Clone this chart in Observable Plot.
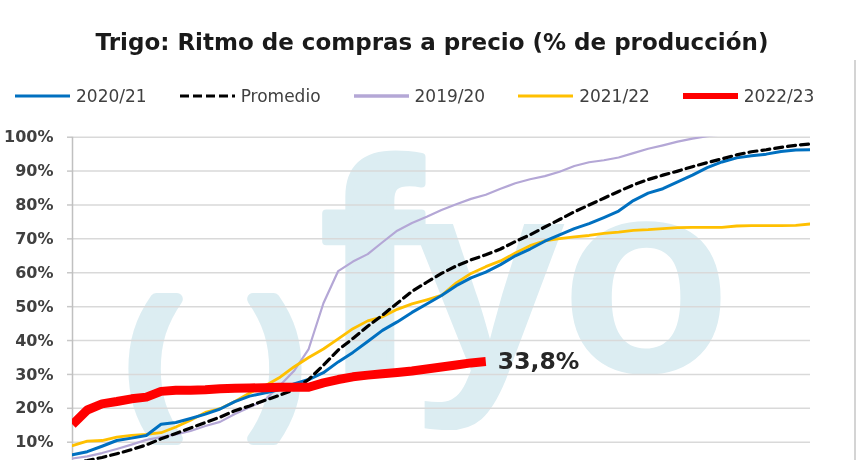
<!DOCTYPE html>
<html><head><meta charset="utf-8">
<script src="https://cdn.jsdelivr.net/npm/d3@7"></script>
<script src="https://cdn.jsdelivr.net/npm/@observablehq/plot@0.6"></script>
<style>
html,body{margin:0;padding:0;background:#fff;}
body{width:860px;height:460px;overflow:hidden;position:relative;font-family:"DejaVu Sans",sans-serif;}
#wm{position:absolute;left:0;top:0;}
#title{position:absolute;left:0;width:864px;top:28px;text-align:center;font-weight:bold;font-size:23px;line-height:28px;color:#1a1a1a;}
#legend{position:absolute;left:15px;top:85px;display:flex;gap:33px;align-items:center;font-size:17px;color:#404040;height:22px;white-space:nowrap;}
.item{display:flex;align-items:center}
.item svg{margin-right:6px}
#chart{position:absolute;left:0;top:120px;}
#border{position:absolute;left:854px;top:60px;width:2px;height:400px;background:#d4d4d4;}
</style>
</head><body>
<canvas id="wm" width="860" height="460"></canvas>
<div id="title"></div>
<div id="legend"></div>
<div id="chart"></div>
<div id="border"></div>
<script>
const titulo = "Trigo: Ritmo de compras a precio (% de producción)";
const yTicks = [10, 20, 30, 40, 50, 60, 70, 80, 90, 100];
const yTickLabels = ["10%", "20%", "30%", "40%", "50%", "60%", "70%", "80%", "90%", "100%"];

const serie2020_21 = [6.3,7.2,8.8,10.5,11.2,12.0,15.3,15.8,17.0,18.3,19.8,22.0,23.6,24.5,25.5,27.2,28.5,30.5,33.7,36.5,39.7,43.0,45.5,48.3,50.8,53.3,56.2,58.5,60.2,62.4,65.0,67.0,69.3,71.2,73.0,74.5,76.3,78.2,81.3,83.5,84.8,86.8,88.8,91.0,92.7,93.9,94.5,95.0,95.8,96.2,96.3];
const promedio = [3.8,4.6,5.5,6.6,7.8,9.2,11.0,12.6,14.2,15.8,17.4,19.3,20.7,22.3,23.8,25.5,28.5,32.7,37.2,40.6,44.2,47.5,51.0,54.5,57.2,59.8,62.0,63.8,65.3,67.0,69.2,71.2,73.5,75.7,78.0,80.0,82.0,84.0,85.9,87.5,88.8,90.0,91.3,92.5,93.6,94.8,95.7,96.3,97.0,97.6,98.0];
const serie2019_20 = [5.2,5.8,6.8,8.0,9.3,10.7,11.5,12.3,13.3,14.8,16.0,18.3,20.3,22.3,26.5,31.0,37.5,51.0,60.5,63.3,65.5,69.0,72.4,74.7,76.5,78.5,80.2,81.8,83.0,84.8,86.4,87.6,88.5,89.8,91.5,92.6,93.2,94.0,95.3,96.6,97.6,98.7,99.6,100.3,100.8,101.3,101.8,102.3,102.8,103.2,103.6];
const serie2021_22 = [9.0,10.3,10.5,11.5,12.0,12.3,12.8,14.5,16.5,18.8,19.9,22.0,24.5,26.5,29.0,32.2,35.0,37.5,40.5,43.5,45.8,47.0,49.2,50.8,52.0,53.3,57.0,59.8,61.8,63.5,65.8,68.0,69.4,70.1,70.6,71.0,71.6,72.0,72.5,72.7,73.0,73.3,73.4,73.4,73.4,73.8,73.9,73.9,73.9,74.0,74.4];
const serie2022_23 = [15.2,19.5,21.3,22.0,22.8,23.3,25.0,25.3,25.3,25.5,25.8,25.9,26.0,26.1,26.2,26.2,26.2,27.5,28.5,29.3,29.8,30.2,30.6,31.0,31.6,32.2,32.8,33.4,33.8];

const seriesNames = ["2020/21", "Promedio", "2019/20", "2021/22", "2022/23"];
const seriesValues = [serie2020_21, promedio, serie2019_20, serie2021_22, serie2022_23];
const seriesColors = ["#0070c0", "#000000", "#b4a7d6", "#ffc000", "#ff0000"];
const seriesWidths = [3, 3.2, 2.2, 2.8, 9];
const seriesDash = [null, "8,5", null, null, null];
const drawOrder = ["2019/20", "2021/22", "2020/21", "Promedio", "2022/23"];

const rowsOf = name => {
  const k = seriesNames.indexOf(name);
  return seriesValues[k].map((v, i) => ({semana: i, valor: v, serie: name}));
};

document.getElementById("title").textContent = titulo;

const legend = document.getElementById("legend");
seriesNames.forEach((n, k) => {
  const it = document.createElement("div");
  it.className = "item";
  const sw = seriesWidths[k] > 5 ? 6 : (k === 2 ? 3.5 : 3.2);
  it.innerHTML = `<svg width="55" height="12"><line x1="0" x2="55" y1="6" y2="6" stroke="${seriesColors[k]}" stroke-width="${sw}" ${seriesDash[k] ? `stroke-dasharray="9,4"` : ""}/></svg><span>${n}</span>`;
  legend.appendChild(it);
});

// watermark logo (graphic, drawn behind the chart)
const ctx = document.getElementById("wm").getContext("2d");
const wmColor = "#dcedf2";
ctx.fillStyle = wmColor; ctx.strokeStyle = wmColor; ctx.textAlign = "center"; ctx.lineJoin = "round";
ctx.font = "bold 150px 'Liberation Sans'";
ctx.lineWidth = 12;
ctx.fillText("(", 152, 408); ctx.strokeText("(", 152, 408);
ctx.fillText(")", 278, 408); ctx.strokeText(")", 278, 408);
ctx.font = "bold 300px 'Liberation Sans'";
ctx.lineWidth = 8;
ctx.fillText("f", 371, 372); ctx.strokeText("f", 371, 372);
ctx.font = "bold 280px 'Liberation Sans'";
ctx.fillText("y", 488, 372);
ctx.fillText("o", 646, 372);

const last = serie2022_23.length - 1;
const ultimo = [{semana: last, valor: serie2022_23[last], label: serie2022_23[last].toFixed(1).replace(".", ",") + "%"}];

const lineMarks = drawOrder.map(name => {
  const k = seriesNames.indexOf(name);
  return Plot.line(rowsOf(name), {
    x: "semana", y: "valor",
    stroke: seriesColors[k],
    strokeWidth: seriesWidths[k],
    strokeDasharray: seriesDash[k] || undefined,
    strokeLinecap: k === 4 ? "butt" : "round",
    clip: true
  });
});

const chart = Plot.plot({
  width: 860,
  height: 400,
  marginLeft: 72,
  marginRight: 50,
  marginTop: 16.7,
  marginBottom: 44.4,
  style: {background: "transparent", fontFamily: "DejaVu Sans"},
  x: {domain: [0, 50], axis: null},
  y: {domain: [0, 100], axis: null},
  marks: [
    Plot.gridY(yTicks, {stroke: "#d9d9d9", strokeOpacity: 1, strokeWidth: 1.5}),
    Plot.axisY(yTicks, {
      label: null,
      tickSize: 5, tickPadding: 14,
      tickFormat: d => yTickLabels[yTicks.indexOf(d)],
      stroke: "#c8c8c8", strokeWidth: 1.5,
      fill: "#404040", fontSize: 16, fontWeight: "bold"
    }),
    Plot.ruleX([0], {stroke: "#c0c0c0", strokeWidth: 1.5}),
    ...lineMarks,
    Plot.text(ultimo, {
      x: "semana", y: "valor", text: "label",
      dx: 12, textAnchor: "start", fontSize: 23.5, fontWeight: "bold", fill: "#262626"
    })
  ]
});
document.getElementById("chart").appendChild(chart);
</script>
</body></html>
